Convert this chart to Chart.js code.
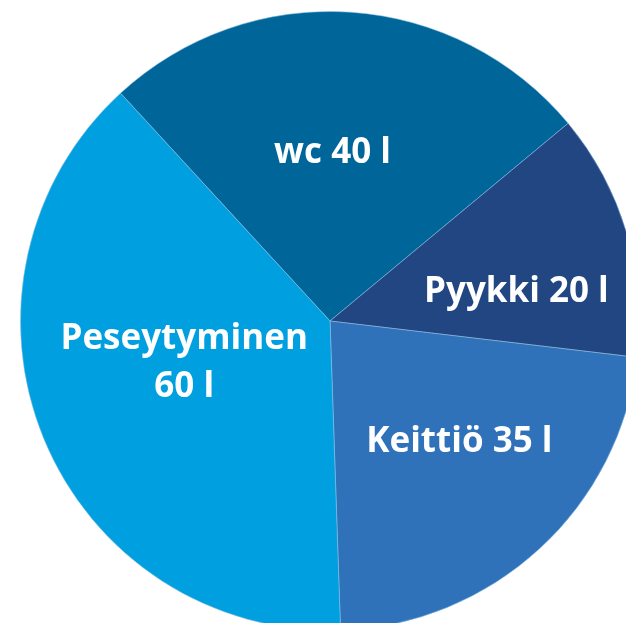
<!DOCTYPE html>
<html>
<head>
<meta charset="utf-8">
<script src="https://cdn.jsdelivr.net/npm/chart.js@4/dist/chart.umd.min.js"></script>
<style>
  html, body { margin: 0; padding: 0; background: #ffffff; overflow: hidden; width: 626px; height: 623px; }
  #wrap { position: absolute; left: 0px; top: -9px; width: 660px; height: 660px; }
</style>
</head>
<body>
<div id="wrap"><canvas id="c" width="660" height="660"></canvas></div>
<script>
// ---- data ----
const categories = ['wc', 'Pyykki', 'Keittiö', 'Peseytyminen'];
const litres = [40, 20, 35, 60];
const unit = 'l';

// ---- style ----
const sliceColors = ['#006699', '#214682', '#2f72b9', '#009fe0'];
// label placement: fraction of radius, angle nudge (degrees)
const labelPlacement = [
  { r: 0.55,  da: -3.0 },
  { r: 0.611, da: 6.8 },
  { r: 0.567, da: -4.9 },
  { r: 0.488, da: 7.2 }
];

const sliceLabels = {
  id: 'sliceLabels',
  afterDatasetsDraw(chart) {
    const ctx = chart.ctx;
    const meta = chart.getDatasetMeta(0);
    const fontSize = 35;
    const capH = fontSize * 0.714;
    const lineH = 48;
    ctx.save();
    ctx.fillStyle = '#ffffff';
    ctx.font = 'bold ' + fontSize + 'px "Open Sans"';
    ctx.textAlign = 'center';
    ctx.textBaseline = 'alphabetic';
    meta.data.forEach((arc, i) => {
      const p = arc.getProps(['x', 'y', 'startAngle', 'endAngle', 'outerRadius'], true);
      const mid = (p.startAngle + p.endAngle) / 2 + labelPlacement[i].da * Math.PI / 180;
      const rr = p.outerRadius * labelPlacement[i].r;
      const cx = p.x + Math.cos(mid) * rr;
      const cy = p.y + Math.sin(mid) * rr;
      const name = categories[i];
      const valueText = litres[i] + ' ' + unit;
      const lines = name.length > 10 ? [name, valueText] : [name + ' ' + valueText];
      const totalH = capH + (lines.length - 1) * lineH;
      lines.forEach((ln, k) => {
        ctx.fillText(ln, cx, cy - totalH / 2 + capH + k * lineH);
      });
    });
    ctx.restore();
  }
};

new Chart(document.getElementById('c'), {
  type: 'pie',
  data: {
    labels: categories,
    datasets: [{
      data: litres,
      backgroundColor: sliceColors,
      borderColor: 'rgba(140,190,225,0.55)',
      borderWidth: 1
    }]
  },
  options: {
    responsive: false,
    animation: false,
    rotation: -42.6,
    layout: { padding: 20 },
    plugins: {
      legend: { display: false },
      tooltip: { enabled: false }
    }
  },
  plugins: [sliceLabels]
});
</script>
</body>
</html>
